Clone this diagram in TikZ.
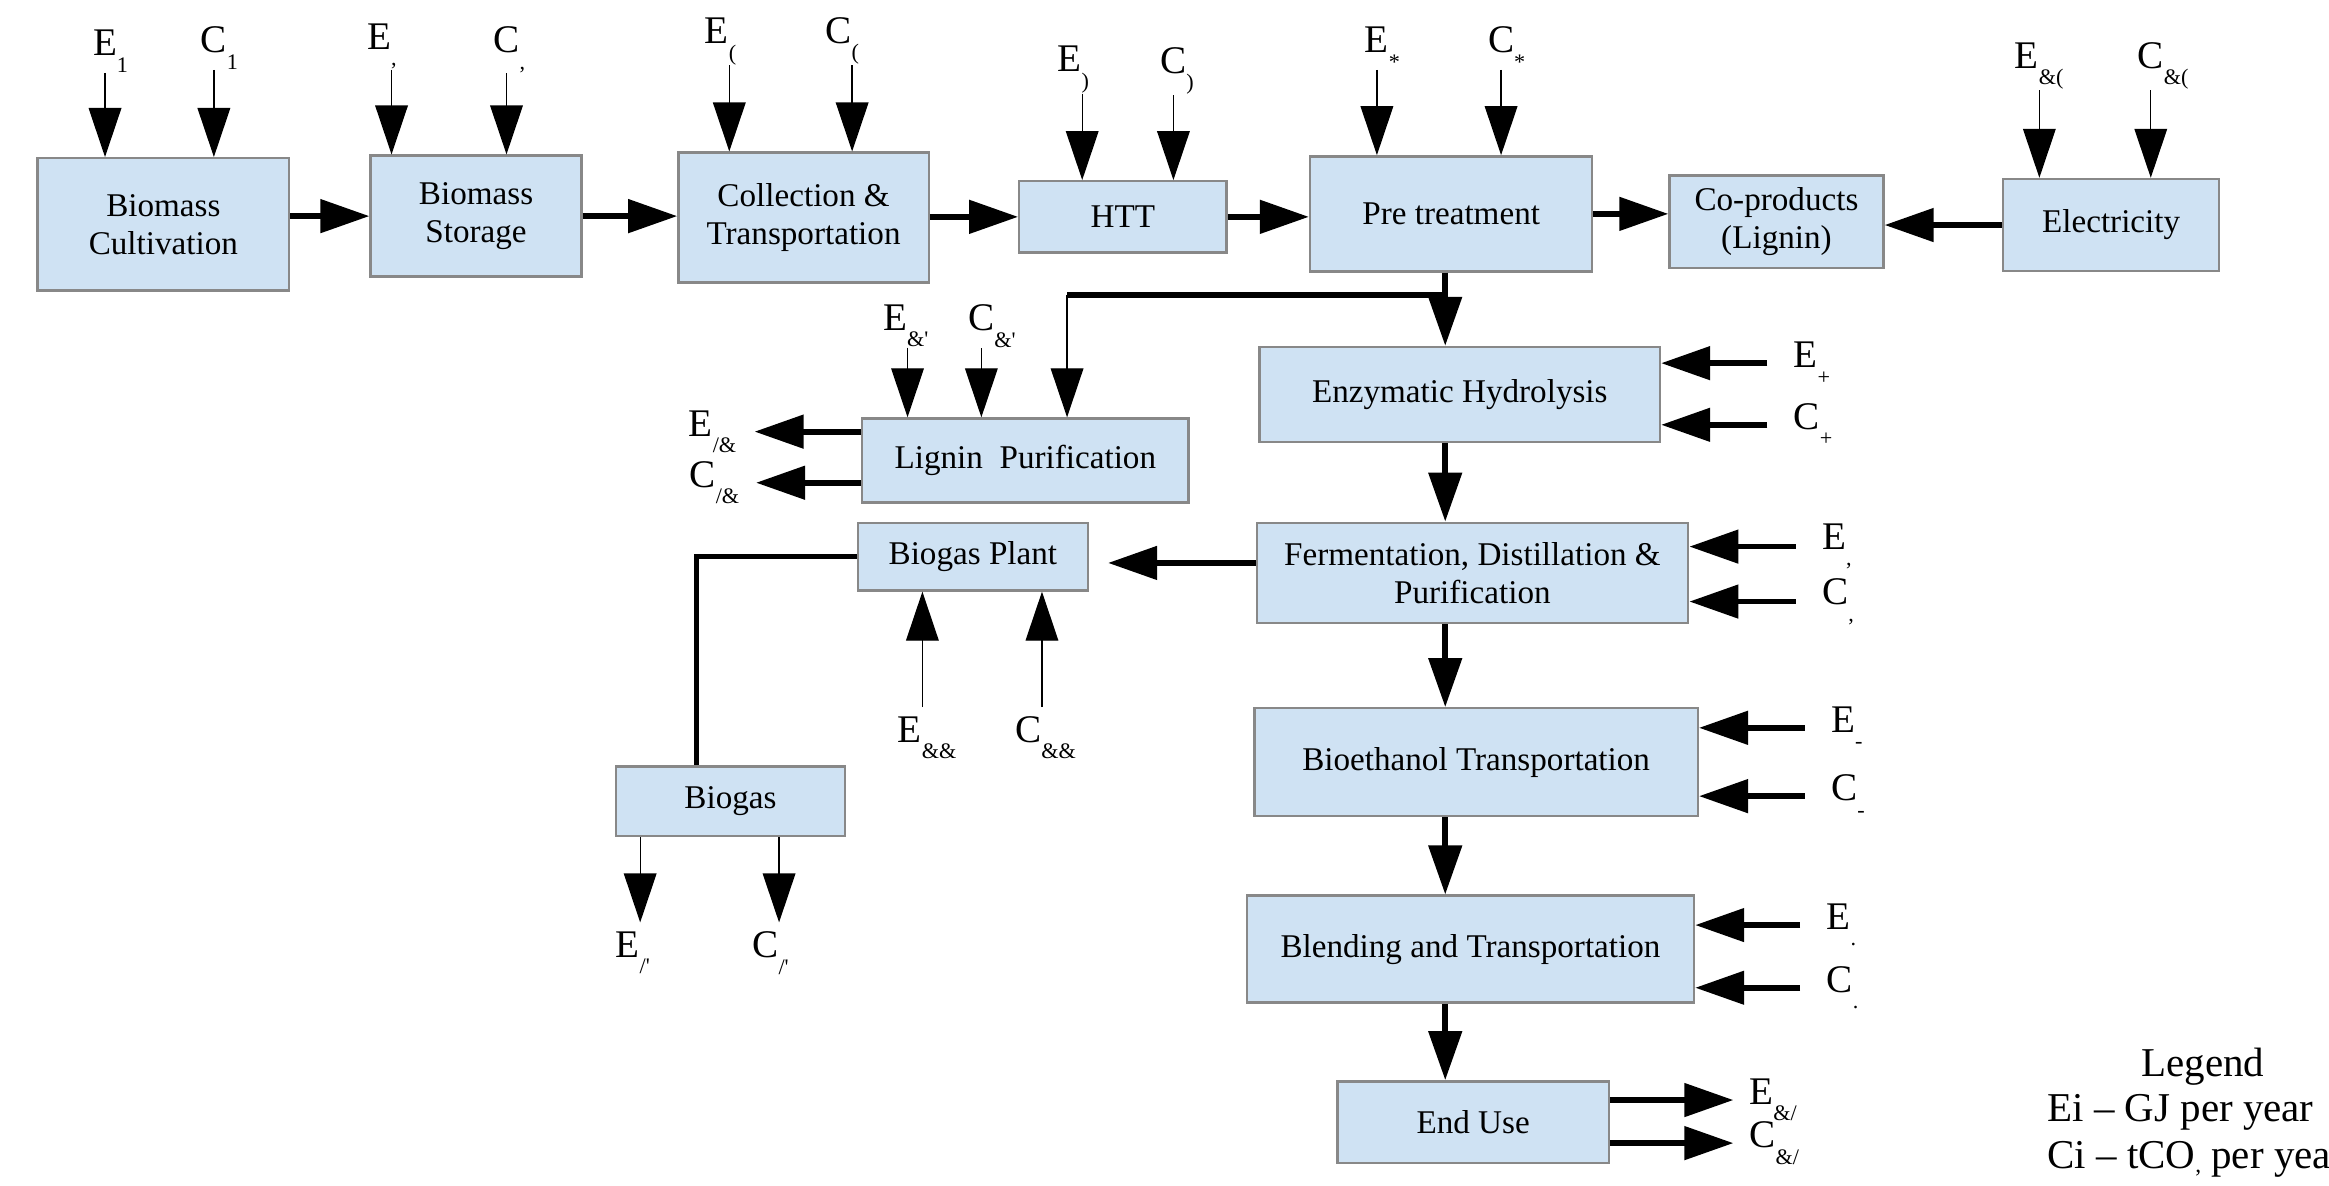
\documentclass[tikz,border=0pt]{standalone}
\usepackage{fontspec}
\setmainfont{Liberation Serif}
\usetikzlibrary{arrows.meta}

\definecolor{boxfill}{HTML}{CFE2F3}
\definecolor{boxline}{HTML}{888888}

\newcommand{\lowsub}[1]{\raisebox{-6.3pt}{\fontsize{8.5}{10}\selectfont #1}}
\newcommand{\ecl}[2]{#1\rlap{\lowsub{#2}}}

\tikzstyle{every node}=[font=\fontsize{12.7}{14.6}\selectfont]
\tikzstyle{box}=[draw=boxline, fill=boxfill, line width=0.9pt, align=center, inner sep=2pt]
\tikzstyle{lab}=[font=\fontsize{15}{17}\selectfont, inner sep=0pt]
\tikzstyle{inlab}=[lab, inner xsep=3.5mm, anchor=west]
\tikzstyle{leglab}=[font=\fontsize{15.7}{18}\selectfont, inner sep=0pt]
\tikzstyle{flow}=[-{Triangle[length=6.6mm,width=4.4mm]}, line width=2.2pt]
\tikzstyle{feed}=[-{Triangle[length=6.6mm,width=4.4mm]}, line width=0.5pt]
\tikzstyle{pipe}=[line width=2pt]

\begin{document}
\begin{tikzpicture}[x=0.2mm, y=-0.2mm]
            \useasboundingbox (0,0) rectangle (1568,798);
            \fill[white] (0,0) rectangle (1568,798);

            % 上排流程框
            \node[box, minimum width=33.9mm, minimum height=17.8mm] (cult) at (110,151) {Biomass\\Cultivation};
            \node[box, minimum width=28.4mm, minimum height=16.3mm] (stor) at (320.5,145.5) {Biomass\\Storage};
            \node[box, minimum width=33.7mm, minimum height=17.5mm] (coll) at (541,146.5) {Collection \&\\Transportation};
            \node[box, minimum width=27.9mm, minimum height=9.6mm] (htt) at (756,146) {HTT};
            \node[box, minimum width=38mm, minimum height=15.5mm] (pre) at (977,144) {Pre treatment};
            \node[box, minimum width=28.8mm, minimum height=12.5mm] (cop) at (1196,149.3) {Co-products\\(Lignin)};
            \node[box, minimum width=29.1mm, minimum height=12.4mm] (elec) at (1421.3,151.5) {Electricity};

            % 下方流程框
            \node[box, minimum width=53.9mm, minimum height=12.8mm] (enz) at (982.8,265.6) {Enzymatic Hydrolysis};
            \node[box, minimum width=43.9mm, minimum height=11.3mm] (lig) at (690.3,310) {Lignin\ \ Purification};
            \node[box, minimum width=31mm, minimum height=9.1mm] (bgp) at (655,374.8) {Biogas Plant};
            \node[box, minimum width=58.1mm, minimum height=13.5mm] (ferm) at (991.3,385.7) {Fermentation, Distillation \&\\Purification};
            \node[box, minimum width=30.9mm, minimum height=9.4mm] (gas) at (491.8,539.5) {Biogas};
            \node[box, minimum width=59.7mm, minimum height=14.5mm] (trans) at (993.8,513.1) {Bioethanol Transportation};
            \node[box, minimum width=60.2mm, minimum height=14.4mm] (blend) at (990,639) {Blending and Transportation};
            \node[box, minimum width=36.5mm, minimum height=11mm] (use) at (991.8,755.5) {End Use};

            % 上排箭头
            \draw[flow] (cult.east |- stor.west) -- (stor.west);
            \draw[flow] (stor.east) -- (stor.east -| coll.west);
            \draw[flow] (coll.east |- htt.west) -- (htt.west);
            \draw[flow] (htt.east) -- (htt.east -| pre.west);
            \draw[flow] (pre.east) -- (pre.east -| cop.west);
            \draw[flow] (elec.west) -- (elec.west -| cop.east);

            % 主线与分支
            \coordinate (fork) at (973,198.6);
            \coordinate (bend) at (718.4,198.6);
            \coordinate (gasin) at (746,379);
            \draw[flow] (pre.south -| fork) -- (enz.north -| fork);
            \draw[pipe] (fork) -- (bend);
            \draw[feed] (bend) -- (bend |- lig.north);
            \draw[flow] (enz.south -| fork) -- (ferm.north -| fork);
            \draw[flow] (ferm.south -| fork) -- (trans.north -| fork);
            \draw[flow] (trans.south -| fork) -- (blend.north -| fork);
            \draw[flow] (blend.south -| fork) -- (use.north -| fork);
            \draw[flow] (ferm.west |- gasin) -- (gasin);
            \draw[pipe] (bgp.west) -| ([xshift=-4.6mm]gas.north);

            % 上方输入
            \node[lab, anchor=south] (e1) at (70.7,49) {\ecl{E}{1}};
            \node[lab, anchor=south] (c1) at (144,47) {\ecl{C}{1}};
            \node[lab, anchor=south east] (e2) at (263.6,47) {\ecl{E}{,}};
            \node[lab, anchor=south] (c2) at (341,49.4) {\ecl{C}{,}};
            \node[lab, anchor=south east] (e3) at (491,44) {\ecl{E}{(}};
            \node[lab, anchor=south east] (c3) at (573.7,43.8) {\ecl{C}{(}};
            \node[lab, anchor=south east] (e4) at (728.6,63) {\ecl{E}{)}};
            \node[lab, anchor=south] (c4) at (790,64) {\ecl{C}{)}};
            \node[lab, anchor=south] (e5) at (927,47) {\ecl{E}{*}};
            \node[lab, anchor=south] (c5) at (1010.6,47) {\ecl{C}{*}};
            \node[lab, anchor=south east] (e6) at (1373,60.6) {\ecl{E}{\&(}};
            \node[lab, anchor=south] (c6) at (1448,60.6) {\ecl{C}{\&(}};
            \node[lab, anchor=south east] (e7) at (611,234) {\ecl{E}{\&\textquotesingle}};
            \node[lab, anchor=south] (c7) at (660.7,234.4) {\ecl{C}{\&\textquotesingle}};

            \draw[feed] (e1.south) -- (e1.south |- cult.north);
            \draw[feed] (c1.south) -- (c1.south |- cult.north);
            \draw[feed] (e2.south east) -- (e2.south east |- stor.north);
            \draw[feed] (c2.south) -- (c2.south |- stor.north);
            \draw[feed] (e3.south east) -- (e3.south east |- coll.north);
            \draw[feed] (c3.south east) -- (c3.south east |- coll.north);
            \draw[feed] (e4.south east) -- (e4.south east |- htt.north);
            \draw[feed] (c4.south) -- (c4.south |- htt.north);
            \draw[feed] (e5.south) -- (e5.south |- pre.north);
            \draw[feed] (c5.south) -- (c5.south |- pre.north);
            \draw[feed] (e6.south east) -- (e6.south east |- elec.north);
            \draw[feed] (c6.south) -- (c6.south |- elec.north);
            \draw[feed] (e7.south east) -- (e7.south east |- lig.north);
            \draw[feed] (c7.south) -- (c7.south |- lig.north);

            % 沼气厂输入与沼气输出
            \node[lab, inner ysep=1.2mm, anchor=north east] (e8) at (621,476) {\ecl{E}{\&\&}};
            \node[lab, inner ysep=1.2mm, anchor=north east] (c8) at (701.5,476) {\ecl{C}{\&\&}};
            \node[lab, inner ysep=1.2mm, anchor=north east] (e9) at (431,621) {\ecl{E}{/\textquotesingle}};
            \node[lab, inner ysep=1.2mm, anchor=north east] (c9) at (524.5,621) {\ecl{C}{/\textquotesingle}};
            \draw[feed] (e8.north east) -- (e8.north east |- bgp.south);
            \draw[feed] (c8.north east) -- (c8.north east |- bgp.south);
            \draw[feed] (gas.south -| e9.north east) -- (e9.north east);
            \draw[feed] (gas.south -| c9.north east) -- (c9.north east);

            % 右侧输入
            \node[inlab] (e10) at (1189.8,244.5) {\ecl{E}{+}};
            \node[inlab] (c10) at (1189.8,286) {\ecl{C}{+}};
            \node[inlab] (e11) at (1209,368) {\ecl{E}{,}};
            \node[inlab] (c11) at (1209,405) {\ecl{C}{,}};
            \node[inlab] (e12) at (1215,490) {\ecl{E}{-}};
            \node[inlab] (c12) at (1215,536) {\ecl{C}{-}};
            \node[inlab] (e13) at (1212,622.8) {\ecl{E}{.}};
            \node[inlab] (c13) at (1212,665) {\ecl{C}{.}};
            \draw[flow] (e10.west) -- (e10.west -| enz.east);
            \draw[flow] (c10.west) -- (c10.west -| enz.east);
            \draw[flow] (e11.west) -- (e11.west -| ferm.east);
            \draw[flow] (c11.west) -- (c11.west -| ferm.east);
            \draw[flow] (e12.west) -- (e12.west -| trans.east);
            \draw[flow] (c12.west) -- (c12.west -| trans.east);
            \draw[flow] (e13.west) -- (e13.west -| blend.east);
            \draw[flow] (c13.west) -- (c13.west -| blend.east);

            % 输出
            \node[lab, inner xsep=2.1mm, anchor=west] (e14) at (1167,740.6) {\ecl{E}{\&/}};
            \node[lab, inner xsep=2.1mm, anchor=west] (c14) at (1167,769.6) {\ecl{C}{\&/}};
            \node[lab, inner xsep=2.4mm, anchor=east] (e15) at (508,290.6) {E\lowsub{/\&}};
            \node[lab, inner xsep=2.2mm, anchor=east] (c15) at (509,325) {C\lowsub{/\&}};
            \draw[flow] (use.east |- e14.west) -- (e14.west);
            \draw[flow] (use.east |- c14.west) -- (c14.west);
            \draw[flow] (lig.west |- e15.east) -- (e15.east);
            \draw[flow] (lig.west |- c15.east) -- (c15.east);

            % 图例
            \node[leglab, anchor=base] (leg) at (1483,725) {Legend};
            \node[leglab, anchor=base west] (legE) at (1378,755) {Ei – GJ per year};
            \node[leglab, anchor=base west] (legC) at (1378,786.6) {Ci – tCO\raisebox{-1.5pt}{\fontsize{9}{10}\selectfont ,} per year};
        \end{tikzpicture}
\end{document}
